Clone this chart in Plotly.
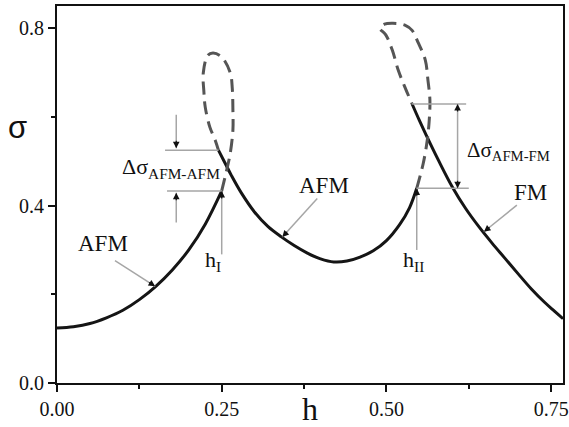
import math
import plotly.graph_objects as go

# ---- curve data: surface tension sigma versus field h ----
afm_low_h = [0.0, 0.025, 0.05, 0.075, 0.10, 0.125, 0.15, 0.175, 0.20, 0.225, 0.25]
afm_low_s = [0.124, 0.127, 0.134, 0.147, 0.164, 0.188, 0.218, 0.255, 0.300, 0.358, 0.433]

loop1_h = [0.25, 0.26, 0.263, 0.267, 0.267, 0.266, 0.263, 0.25, 0.237, 0.229, 0.222, 0.223, 0.225, 0.232, 0.24, 0.245]
loop1_s = [0.433, 0.496, 0.518, 0.57, 0.615, 0.665, 0.699, 0.735, 0.744, 0.739, 0.699, 0.656, 0.622, 0.577, 0.548, 0.525]

afm_mid_h = [0.245, 0.255, 0.265, 0.28, 0.30, 0.32, 0.34, 0.36, 0.38, 0.40, 0.42, 0.44, 0.46, 0.48, 0.50, 0.52, 0.535, 0.546]
afm_mid_s = [0.525, 0.496, 0.467, 0.428, 0.385, 0.353, 0.33, 0.31, 0.293, 0.28, 0.273, 0.275, 0.284, 0.298, 0.321, 0.357, 0.395, 0.439]

loop2_h = [0.546, 0.556, 0.562, 0.565, 0.566, 0.563, 0.559, 0.548, 0.539, 0.528, 0.51, 0.497, 0.49, 0.499, 0.509, 0.518, 0.528, 0.539]
loop2_s = [0.439, 0.496, 0.548, 0.593, 0.638, 0.683, 0.728, 0.768, 0.795, 0.807, 0.811, 0.809, 0.80, 0.785, 0.75, 0.705, 0.667, 0.629]

fm_h = [0.539, 0.55, 0.56, 0.58, 0.60, 0.62, 0.64, 0.66, 0.68, 0.70, 0.72, 0.74, 0.755, 0.768]
fm_s = [0.629, 0.592, 0.560, 0.499, 0.442, 0.394, 0.353, 0.316, 0.281, 0.246, 0.212, 0.182, 0.162, 0.145]

x_ticks = [0.0, 0.25, 0.50, 0.75]
x_labels = ["0.00", "0.25", "0.50", "0.75"]
y_ticks = [0.0, 0.4, 0.8]
y_labels = ["0.0", "0.4", "0.8"]

# ---- figure geometry ----
W, H = 569, 427
ML, MR, MT, MB = 57, 6, 6, 44
X_RANGE = [0.0, 0.768]
Y_RANGE = [0.0, 0.85]
PW, PH = W - ML - MR, H - MT - MB
px_per_x = PW / (X_RANGE[1] - X_RANGE[0])
px_per_y = PH / (Y_RANGE[1] - Y_RANGE[0])

SERIF = "Liberation Serif, Times New Roman, serif"
SANS = "Liberation Sans, Arial, sans-serif"
INK = "#111111"
SOLID = "#151515"
DASH = "#555555"
GUIDE = "#a6a6a6"

fig = go.Figure()

for hx, sy in [(afm_low_h, afm_low_s), (afm_mid_h, afm_mid_s), (fm_h, fm_s)]:
    fig.add_trace(go.Scatter(x=hx, y=sy, mode="lines",
                             line=dict(color=SOLID, width=3, shape="spline", smoothing=1.0),
                             hoverinfo="skip", showlegend=False))
for hx, sy in [(loop1_h, loop1_s), (loop2_h, loop2_s)]:
    fig.add_trace(go.Scatter(x=hx, y=sy, mode="lines",
                             line=dict(color=DASH, width=3, dash="13px,7px", shape="spline", smoothing=1.0),
                             hoverinfo="skip", showlegend=False))

shapes = []
annotations = []


def guide(x0, y0, x1, y1):
    shapes.append(dict(type="line", xref="x", yref="y", x0=x0, y0=y0, x1=x1, y1=y1,
                       line=dict(color=GUIDE, width=1.5), layer="above"))


def head(x_from, y_from, x_to, y_to, length=9):
    # short black arrow segment at the tip of a guide line
    dx = (x_to - x_from) * px_per_x
    dy = -(y_to - y_from) * px_per_y
    n = math.hypot(dx, dy)
    annotations.append(dict(x=x_to, y=y_to, xref="x", yref="y", text="", showarrow=True,
                            ax=-dx / n * length, ay=-dy / n * length,
                            arrowhead=2, arrowsize=1.1, arrowwidth=1.2, arrowcolor=INK,
                            standoff=0))


def arrow(x_from, y_from, x_to, y_to):
    guide(x_from, y_from, x_to, y_to)
    head(x_from, y_from, x_to, y_to)


def label(x, y, text, size=22):
    annotations.append(dict(x=x, y=y, xref="x", yref="y", text=text, showarrow=False,
                            font=dict(family=SERIF, size=size, color=INK),
                            xanchor="center", yanchor="middle"))


# first transition: AFM -> AFM
h1, s1_low = afm_low_h[-1], afm_low_s[-1]
s1_up = afm_mid_s[0]
guide(0.164, s1_up, afm_mid_h[0], s1_up)
guide(0.167, s1_low, h1, s1_low)
arrow(0.181, 0.605, 0.181, s1_up + 0.004)
arrow(0.181, 0.362, 0.181, s1_low - 0.004)
label(0.173, 0.484, "Δσ<sub>AFM-AFM</sub>", 22)
arrow(h1, 0.29, h1, s1_low)
label(0.237, 0.276, "h<sub>I</sub>", 22)

# second transition: AFM -> FM
h2, s2_low = afm_mid_h[-1], afm_mid_s[-1]
s2_up = fm_s[0]
guide(fm_h[0], s2_up, 0.621, s2_up)
guide(h2, s2_low, 0.625, s2_low)
guide(0.608, s2_low, 0.608, s2_up)
head(0.608, s2_low, 0.608, s2_up)
head(0.608, s2_up, 0.608, s2_low)
label(0.686, 0.522, "Δσ<sub>AFM-FM</sub>", 21)
arrow(h2, 0.30, h2, s2_low)
label(0.541, 0.274, "h<sub>II</sub>", 22)

# phase labels
label(0.07, 0.315, "AFM", 23)
arrow(0.088, 0.276, 0.149, 0.218)
label(0.405, 0.446, "AFM", 23)
arrow(0.395, 0.416, 0.342, 0.329)
label(0.718, 0.43, "FM", 23)
arrow(0.698, 0.401, 0.648, 0.341)

# vertical axis title
annotations.append(dict(x=(17 - ML) / PW, y=(H - MB - 128) / PH, xref="paper", yref="paper",
                        text="σ", showarrow=False, xanchor="center", yanchor="middle",
                        font=dict(family=SANS, size=31, color=INK)))

axis_common = dict(showline=True, linecolor=INK, linewidth=2, mirror=True,
                   ticks="outside", ticklen=7, tickwidth=2, tickcolor=INK,
                   showgrid=False, zeroline=False, automargin=False,
                   tickfont=dict(family=SERIF, size=20, color=INK))

fig.update_layout(
    width=W, height=H,
    margin=dict(l=ML, r=MR, t=MT, b=MB),
    paper_bgcolor="white", plot_bgcolor="white",
    shapes=shapes, annotations=annotations,
    xaxis=dict(range=X_RANGE, tickmode="array", tickvals=x_ticks, ticktext=x_labels,
               minor=dict(tickvals=[0.125, 0.375, 0.625], ticklen=4, tickwidth=2,
                          tickcolor=INK, ticks="outside"),
               title=dict(text="h", font=dict(family=SERIF, size=32, color=INK), standoff=0),
               **axis_common),
    yaxis=dict(range=Y_RANGE, tickmode="array", tickvals=y_ticks, ticktext=y_labels,
               minor=dict(tickvals=[0.2, 0.6], ticklen=4, tickwidth=2,
                          tickcolor=INK, ticks="outside"),
               **axis_common),
)

fig.write_html("out.html")
